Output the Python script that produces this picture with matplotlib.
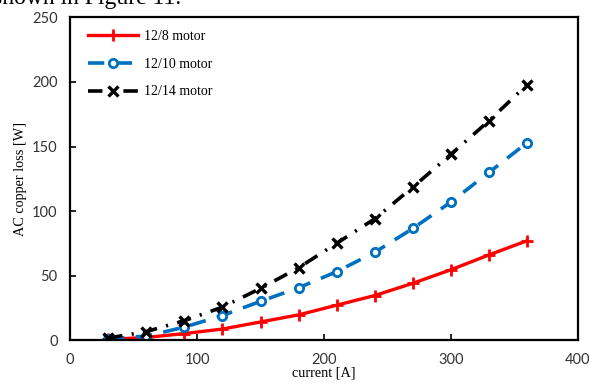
import matplotlib
matplotlib.use("Agg")
import matplotlib.pyplot as plt

current = [30, 60, 90, 120, 150, 180, 210, 240, 270, 300, 330, 360]
loss_12_8 = [0.5, 2, 5, 8.5, 14, 19.5, 27, 34.5, 44, 54.5, 66, 77]
loss_12_10 = [1, 3, 10, 19, 30, 40.5, 53, 68, 86.5, 107, 130, 153]
loss_12_14 = [1.5, 6.5, 15, 25.5, 40, 56, 75, 94, 118.5, 144, 170, 198]

labels = ["12/8 motor", "12/10 motor", "12/14 motor"]
x_ticks = [0, 100, 200, 300, 400]
y_ticks = [0, 50, 100, 150, 200, 250]

serif = "Liberation Serif"
tick_font = "Lato"

fig = plt.figure(figsize=(5.89, 3.87), dpi=100)
ax = fig.add_axes([0.1189, 0.1214, 0.8624, 0.8334])

# caption line from the surrounding text, cut by the top edge
fig.text(-0.012, 0.978, "shown in Figure 11.", family=serif, fontsize=17,
         va="bottom", ha="left")

ax.plot(current, loss_12_8, color="#ff0000", lw=2.4, marker="+", ms=8,
        mew=2.0, label=labels[0])
ax.plot(current, loss_12_10, color="#0070c0", lw=2.6, dashes=(4.5, 3.2),
        marker="o", ms=6, mfc="white", mew=2.0, label=labels[1])
ax.plot(current, loss_12_14, color="black", lw=2.6, dashes=(4.0, 2.6, 0.6, 2.6),
        marker="x", ms=7, mew=2.4, label=labels[2])

ax.set_xlim(0, 400)
ax.set_ylim(0, 250)
ax.set_xticks(x_ticks)
ax.set_yticks(y_ticks)
ax.tick_params(direction="in", length=4, width=1.2, labelsize=10.5, pad=9)
for lab in ax.get_xticklabels() + ax.get_yticklabels():
    lab.set_fontfamily(tick_font)
    lab.set_color("#333333")
for sp in ax.spines.values():
    sp.set_linewidth(1.6)

ax.set_xlabel("current [A]", family=serif, fontsize=10.3)
ax.set_ylabel("AC copper loss [W]", family=serif, fontsize=10.3)
ax.xaxis.set_label_coords(0.5, -0.083)
ax.yaxis.set_label_coords(-0.085, 0.5)

ax.legend(loc="upper left", frameon=False, prop={"family": serif, "size": 10},
          handlelength=3.6, labelspacing=1.05, borderaxespad=0.4,
          handletextpad=0.45, bbox_to_anchor=(0.013, 0.995))

fig.savefig("out.png", dpi=100)
